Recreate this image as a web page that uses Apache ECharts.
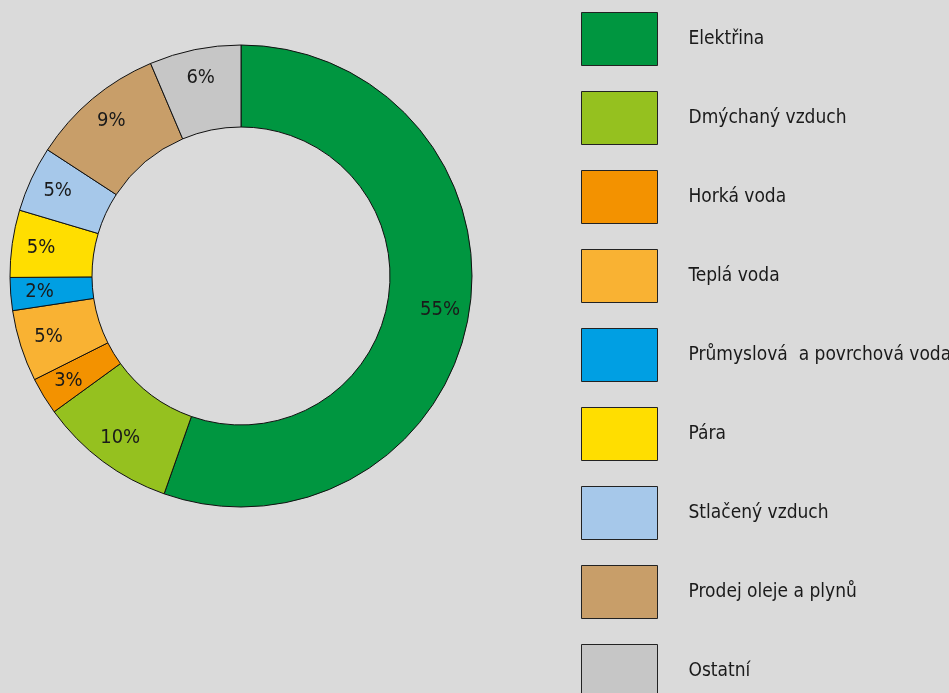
<!DOCTYPE html>
<html><head><meta charset="utf-8">
<script src="https://cdn.jsdelivr.net/npm/echarts@6/dist/echarts.min.js"></script>
<style>html,body{margin:0;padding:0;background:#dadada;}#c{width:949px;height:693px;}</style>
</head><body><div id="c"></div>
<script>
const categories = ['Elektřina','Dmýchaný vzduch','Horká voda','Teplá voda','Průmyslová  a povrchová voda','Pára','Stlačený vzduch','Prodej oleje a plynů','Ostatní'];
const values = [55.4, 9.6, 2.6, 5.0, 2.3, 4.7, 4.6, 9.4, 6.4];
const colors = ['#009640','#95C11F','#F39200','#F9B233','#009FE3','#FFDE00','#A6C8EA','#C89E69','#C6C6C6'];
const FONT = "'Liberation Sans Narrow','DejaVu Sans Condensed',sans-serif";
const chart = echarts.init(document.getElementById('c'));
const pieData = categories.map((n, i) => ({name: n, value: values[i]}));
chart.setOption({
  backgroundColor: '#dadada',
  animation: false,
  color: colors,
  legend: {
    orient: 'vertical', left: 581, top: 12, height: 900, padding: 0,
    itemWidth: 76, itemHeight: 53, itemGap: 25,
    icon: 'rect',
    itemStyle: {borderColor: '#222', borderWidth: 1},
    textStyle: {fontFamily: FONT, fontSize: 19, color: '#1a1a1a', padding: [0,0,0,26]},
    data: categories
  },
  series: [{
    type: 'pie',
    center: [241, 276],
    radius: [149, 231],
    startAngle: 90,
    clockwise: true,
    avoidLabelOverlap: false,
    itemStyle: {borderColor: '#111', borderWidth: 1},
    label: {show: false},
    labelLine: {show: false},
    emphasis: {disabled: true},
    data: pieData
  }, {
    type: 'pie',
    center: [241, 276],
    radius: [167, 231],
    startAngle: 90,
    clockwise: true,
    silent: true,
    avoidLabelOverlap: false,
    itemStyle: {color: 'rgba(0,0,0,0)', borderWidth: 0},
    label: {
      show: true, position: 'inside',
      fontFamily: FONT, fontSize: 20, color: '#1a1a1a',
      formatter: p => Math.round(p.value) + '%'
    },
    labelLine: {show: false},
    emphasis: {disabled: true},
    data: pieData
  }]
});
</script></body></html>
